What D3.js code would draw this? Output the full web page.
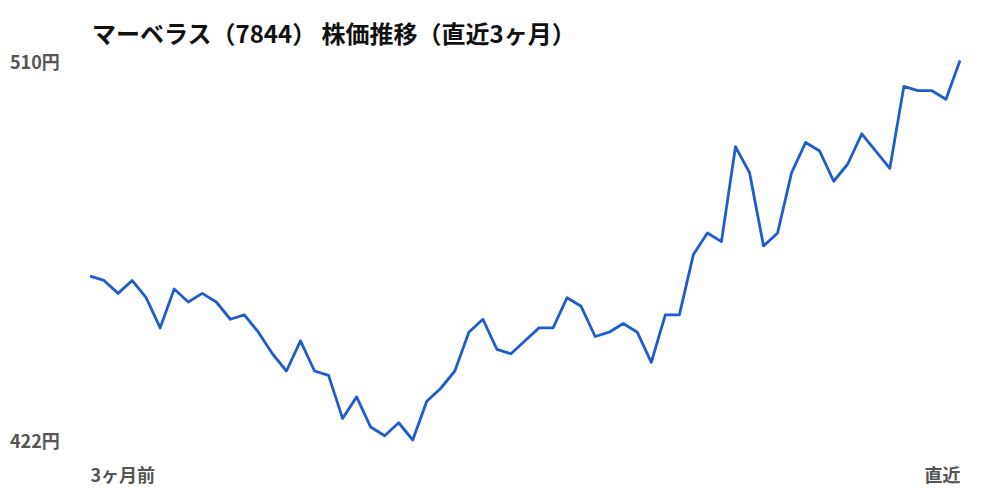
<!DOCTYPE html>
<html>
<head>
<meta charset="utf-8">
<script src="https://cdn.jsdelivr.net/npm/d3@7"></script>
<style>
  body { margin: 0; background: #fff; }
  svg text { font-family: "Noto Sans CJK JP", "Noto Sans", sans-serif; }
</style>
</head>
<body>
<svg id="chart" width="1000" height="500"></svg>
<script>
// chart texts
const title = 'マーベラス（7844） 株価推移（直近3ヶ月）';
const yTickValues = [422, 510];
const xTickLabels = ['3ヶ月前', '直近'];

// daily closes, oldest first
const prices = [
  460, 459, 456, 459, 455, 448, 457, 454, 456, 454,
  450, 451, 447, 442, 438, 445, 438, 437, 427, 432,
  425, 423, 426, 422, 431, 434, 438, 447, 450, 443,
  442, 445, 448, 448, 455, 453, 446, 447, 449, 447,
  440, 451, 451, 465, 470, 468, 490, 484, 467, 470,
  484, 491, 489, 482, 486, 493, 489, 485, 504, 503,
  503, 501, 510
];

const svg = d3.select('#chart');
const margin = { top: 60.5, right: 40, bottom: 60, left: 90 };
const width = +svg.attr('width');
const height = +svg.attr('height');

// scales
const x = d3.scaleLinear()
  .domain([0, prices.length - 1])
  .range([margin.left, width - margin.right]);

const y = d3.scaleLinear()
  .domain([d3.min(yTickValues), d3.max(yTickValues)])
  .range([height - margin.bottom, margin.top]);

// title
svg.append('text')
  .attr('x', 92)
  .attr('y', 43)
  .attr('font-size', 24)
  .attr('font-weight', 700)
  .attr('fill', '#111')
  .text(title);

// y axis: just the min / max labels
const yAxis = d3.axisLeft(y)
  .tickValues(yTickValues)
  .tickFormat(d => d + '円')
  .tickSize(0)
  .tickPadding(0);

svg.append('g')
  .attr('class', 'y-axis')
  .attr('transform', 'translate(10,2)')
  .call(yAxis)
  .call(g => g.select('.domain').remove())
  .selectAll('text')
  .attr('text-anchor', 'start')
  .attr('font-size', 18)
  .attr('font-weight', 700)
  .attr('fill', '#555');

// x axis: first and last
const xAxis = d3.axisBottom(x)
  .tickValues([0, prices.length - 1])
  .tickFormat((d, i) => xTickLabels[i])
  .tickSize(0)
  .tickPadding(0);

svg.append('g')
  .attr('class', 'x-axis')
  .attr('transform', `translate(0,${height - 35})`)
  .call(xAxis)
  .call(g => g.select('.domain').remove())
  .selectAll('text')
  .attr('dy', '0.95em')
  .attr('text-anchor', (d, i) => i === 0 ? 'start' : 'end')
  .attr('font-size', 18)
  .attr('font-weight', 700)
  .attr('fill', '#555');

// price line
const line = d3.line()
  .x((d, i) => x(i))
  .y(d => y(d));

svg.append('path')
  .datum(prices)
  .attr('fill', 'none')
  .attr('stroke', '#1f5ccc')
  .attr('stroke-width', 2.8)
  .attr('stroke-linejoin', 'round')
  .attr('d', line);
</script>
</body>
</html>
